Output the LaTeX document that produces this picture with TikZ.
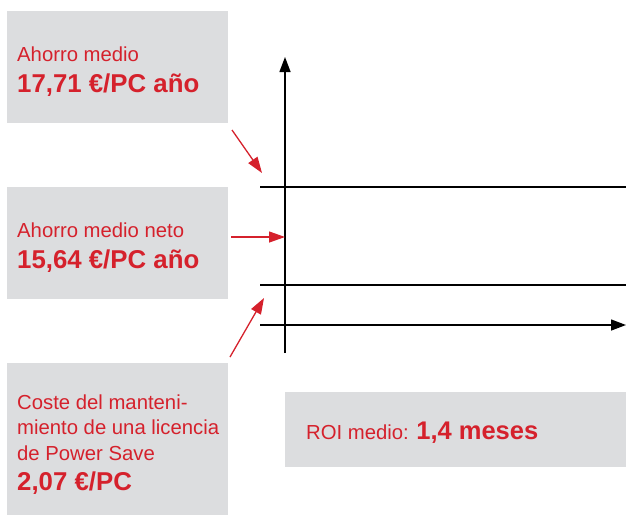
\documentclass[tikz,border=0pt]{standalone}
\usepackage{fontspec}
\setmainfont{Liberation Sans}
\usetikzlibrary{arrows.meta}
\definecolor{boxgray}{RGB}{220,221,223}
\definecolor{roired}{RGB}{213,33,44}

\begin{document}
\begin{tikzpicture}[x=1pt,y=-1pt]
\tikzstyle{box} = [fill=boxgray, draw=none, anchor=north west, inner sep=0pt]
\tikzstyle{txt} = [roired, anchor=base west, inner sep=0pt, font=\fontsize{20.3}{25.5}\selectfont]
\tikzstyle{val} = [txt, font=\fontsize{25.8}{30}\selectfont\bfseries]
\tikzstyle{pointer} = [roired, line width=1.3pt, -{Triangle[length=16pt,width=11pt]}]
\tikzstyle{axis} = [line width=1.4pt, -{Triangle[length=15pt,width=11pt]}]
\tikzstyle{level} = [line width=2.6pt]
\useasboundingbox (0,0) rectangle (626,515);
% grey boxes
\node[box, minimum width=221pt, minimum height=112pt] (ahorro) at (7,11) {};
\node[box, minimum width=221pt, minimum height=112pt] (neto) at (7,187) {};
\node[box, minimum width=221pt, minimum height=152pt] (coste) at (7,363) {};
\node[box, minimum width=341pt, minimum height=75pt] (roi) at (285,392) {};
% texts
\node[txt] (ahorrolbl) at (17,61) {Ahorro medio};
\node[val] (ahorroval) at (17,92) {17,71 €/PC año};
\node[txt] (netolbl) at (17,237) {Ahorro medio neto};
\node[val] (netoval) at (17,268) {15,64 €/PC año};
\node[txt] (costelbla) at (17,409) {Coste del manteni-};
\node[txt] (costelblb) at (17,434) {miento de una licencia};
\node[txt] (costelblc) at (17,460) {de Power Save};
\node[val] (costeval) at (17,490) {2,07 €/PC};
\node[txt] (roilbl) at (306,439) {ROI medio: {\fontsize{25.5}{30}\selectfont\bfseries 1,4 meses}};
% axes and levels
\coordinate (yfoot) at (285,353);
\coordinate (ytop) at (285,57);
\coordinate (xstart) at (260,325);
\coordinate (xend) at (626,325);
\coordinate (hiW) at (260,187);
\coordinate (hiE) at (626,187);
\coordinate (loW) at (260,285);
\coordinate (loE) at (626,285);
\draw[axis] (yfoot) -- (ytop);
\draw[axis] (xstart) -- (xend);
\draw[level] (hiW) -- (hiE);
\draw[level] (loW) -- (loE);
% pointers
\coordinate (hiTip) at (262,173);
\coordinate (midTip) at (285,237);
\coordinate (loTip) at (264,298);
\draw[pointer] (232,130) -- (hiTip);
\draw[pointer] (231,237) -- (midTip);
\draw[pointer] (230,357) -- (loTip);
\end{tikzpicture}
\end{document}
